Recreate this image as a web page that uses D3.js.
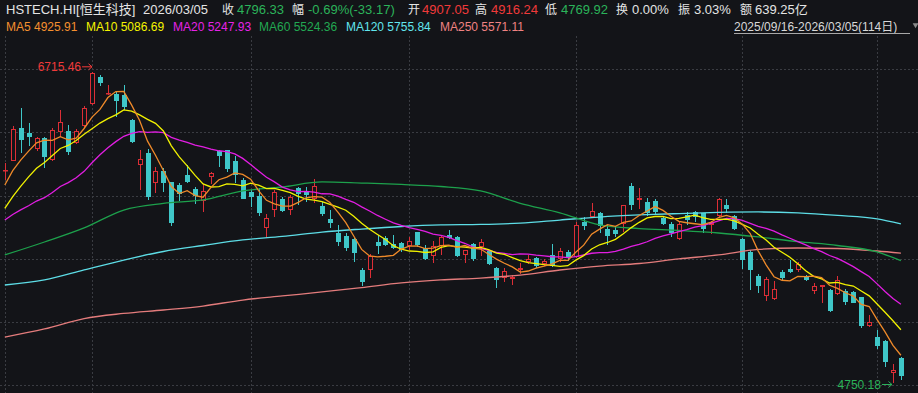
<!DOCTYPE html>
<html>
<head>
<meta charset="utf-8">
<script src="https://cdn.jsdelivr.net/npm/d3@7"></script>
<style>
  html, body { margin: 0; padding: 0; background: #131418; }
  svg { display: block; }
</style>
</head>
<body>
<div id="wrapper"></div>
<script>
// daily candles, 2025/09/16 - 2026/03/05 (114 trading days)
const opens = [6091,6156,6361,6330,6230,6298,6158,6338,6347,6268,6373,6513,6686,6580,6581,6575,6414,6129,6205,6017,
  6091,6020,6003,6066,5979,5901,6055,6220,6224,6154,6034,5956,5930,5729,5843,5912,5844,5982,5960,5912,
  5870,5788,5701,5680,5661,5465,5465,5640,5665,5628,5638,5619,5703,5602,5554,5617,5686,5672,5560,5628,
  5612,5587,5480,5412,5406,5465,5514,5543,5501,5560,5535,5581,5549,5770,5802,5827,5726,5718,5755,5996,
  5908,5896,5903,5794,5759,5658,5811,5832,5824,5750,5808,5876,5808,5659,5578,5427,5300,5280,5454,5469,
  5465,5425,5334,5356,5338,5313,5334,5324,5292,5113,5043,5018,4812,4907.05];
const highs = [6140,6376,6488,6393,6306,6306,6363,6477,6380,6359,6502,6715.46,6698,6635,6593,6635,6420,6224,6230,6115,
  6113,6024,6013,6129,5992,6009,6087,6224,6224,6183,6047,5971,5982,5819,5971,5929,5939,5992,5990,6041,
  5892,5844,5750,5697,5665,5480,5566,5686,5680,5686,5644,5676,5707,5623,5650,5680,5718,5680,5591,5634,
  5659,5591,5486,5480,5433,5507,5560,5549,5535,5628,5602,5591,5767,5798,5887,5834,5750,5746,5876,6017,
  5982,5918,5912,5805,5770,5770,5830,5841,5827,5772,5918,5913,5813,5665,5591,5438,5423,5397,5465,5528,
  5517,5433,5381,5372,5345,5427,5345,5334,5296,5180,5085,5022,4870,4916.24];
const lows = [6034,6154,6203,6249,6218,6112,6154,6306,6192,6262,6369,6509,6629,6572,6435,6477,6266,5971,5908,5954,
  5960,5743,5901,6015,5881,5830,6007,6118,6087,6013,5911,5865,5807,5665,5803,5832,5813,5876,5895,5887,
  5808,5732,5619,5587,5517,5364,5412,5566,5617,5598,5581,5591,5612,5528,5507,5560,5661,5549,5507,5522,
  5555,5497,5349,5387,5370,5438,5501,5480,5492,5486,5517,5522,5539,5718,5800,5697,5623,5676,5707,5843,
  5849,5808,5819,5750,5674,5653,5750,5767,5697,5693,5802,5827,5718,5473,5340,5321,5269,5278,5402,5444,
  5454,5395,5311,5258,5201,5307,5244,5254,5100,5106,4963,4850,4750.18,4769.92];
const closes = [6097,6355,6290,6308,6297,6182,6349,6403,6211,6347,6490,6709,6648,6585,6536,6494,6276,6165,5929,6091,
  6013,5764,5946,6020,5933,5963,6077,6186,6104,6066,5914,5929,5824,5796,5956,5838,5929,5946,5939,5996,
  5817,5760,5644,5606,5574,5391,5554,5617,5623,5602,5591,5648,5623,5535,5617,5672,5665,5554,5591,5533,
  5644,5501,5400,5459,5419,5480,5535,5492,5522,5492,5585,5539,5750,5745,5838,5746,5681,5693,5876,5879,
  5918,5824,5834,5755,5696,5755,5779,5802,5727,5764,5912,5849,5722,5528,5467,5364,5408,5345,5416,5450,
  5501,5402,5364,5370,5206,5402,5264,5258,5108,5138,4985,4880,4829.5,4796.33];
// closes of the 19 sessions before the window (for MA5/10/20)
const preCloses = [5650,5720,5780,5700,5760,5690,5640,5720,5740,5674,5620,5640,5700,5760,5817,5900,5960,6020,6036];

// long averages read every 5 sessions
const longIdx = [0,5,10,15,20,25,30,35,40,45,50,55,60,65,70,75,80,85,90,95,100,105,110,113];
const ma60 = [5560,5642,5731,5844,5886,5908,5965,5990,6022,6015,6006,5993,5965,5887,5827,5750,5727,5715,5699,5674,5644,5620,5579,5524];
const ma120 = [5370,5402,5465,5528,5582,5620,5655,5677,5705,5724,5740,5750,5753,5762,5781,5800,5813,5822,5829,5832,5826,5810,5788,5756];
const ma250 = [5041,5092,5158,5190,5212,5237,5275,5301,5326,5354,5383,5402,5414,5433,5465,5490,5506,5535,5560,5595,5604,5601,5585,5571];

// first session of each month
const monthIdx = [0, 11, 31, 51, 72, 93, 110];
const gridPrices = [6734, 6335, 5935, 5535, 5136, 4737];

const titleTexts = ["HSTECH.HI[恒生科技]", "2026/03/05", "收", "4796.33", "幅", "-0.69%(-33.17)", "开", "4907.05",
  "高", "4916.24", "低", "4769.92", "换", "0.00%", "振", "3.03%", "额", "639.25亿"];
const maLabels = ["MA5 4925.91", "MA10 5086.69", "MA20 5247.93", "MA60 5524.36", "MA120 5755.84", "MA250 5571.11"];
const rangeLabel = "2025/09/16-2026/03/05(114日)";

function buildChart(){
    const width = 918, height = 393;
    const font = "'Liberation Sans', Arial, 'Noto Sans CJK SC', sans-serif";
    const upColor = "#dc2e36", downColor = "#3fc7c8", bg = "#131418";
    const maColors = ["#ef8a2a", "#f2f200", "#e21ee2", "#1da14c", "#5ddde6", "#e47c7c"];
    const maTextColors = ["#f5902f", "#f5f500", "#e623e6", "#22a852", "#62e6ee", "#f08282"];
    const white = "#e4e4e4", green = "#2bb35a", red = "#f03a3a";

    const svg = d3.select("#wrapper").append("svg")
        .attr("width", width).attr("height", height)
        .style("font-family", font);
    svg.append("rect").attr("width", width).attr("height", height).attr("fill", bg);

    const idx = d3.range(closes.length);
    const x_scale = d3.scaleBand().domain(idx).range([0.84, 904.86]);
    const cx = i => x_scale(i) + x_scale.bandwidth() / 2;
    const y_scale = d3.scaleLinear()
        .domain([d3.min(lows), d3.max(highs)])
        .range([383, 72.3]);

    // grid
    const grid = svg.append("g").attr("stroke", "#3a3c42").attr("stroke-dasharray", "2,2").attr("stroke-width", 1);
    grid.selectAll("line.h").data(gridPrices).join("line")
        .attr("x1", 0).attr("x2", width)
        .attr("y1", d => Math.round(y_scale(d)) + 0.5).attr("y2", d => Math.round(y_scale(d)) + 0.5);
    grid.selectAll("line.v").data(monthIdx).join("line")
        .attr("x1", d => Math.round(cx(d)) + 0.5).attr("x2", d => Math.round(cx(d)) + 0.5)
        .attr("y1", 36).attr("y2", height);

    // candles
    const candles = svg.append("g").selectAll("g").data(idx).join("g");
    candles.each(function(i){
        const g = d3.select(this);
        const r = Math.round(cx(i));
        const up = closes[i] >= opens[i];
        const yHi = Math.round(y_scale(highs[i])), yLo = Math.round(y_scale(lows[i]));
        let yTop = Math.round(y_scale(Math.max(opens[i], closes[i])));
        let yBot = Math.round(y_scale(Math.min(opens[i], closes[i])));
        if (yBot - yTop < 1) yBot = yTop + 1;
        const col = up ? upColor : downColor;
        g.append("line").attr("x1", r + 0.5).attr("x2", r + 0.5)
            .attr("y1", yHi).attr("y2", yTop).attr("stroke", col);
        g.append("line").attr("x1", r + 0.5).attr("x2", r + 0.5)
            .attr("y1", yBot).attr("y2", yLo).attr("stroke", col);
        if (up) {
            g.append("rect").attr("x", r - 1.5).attr("y", yTop + 0.5)
                .attr("width", 4).attr("height", Math.max(yBot - yTop - 1, 0.5))
                .attr("fill", bg).attr("stroke", col).attr("stroke-width", 1);
        } else {
            g.append("rect").attr("x", r - 2).attr("y", yTop)
                .attr("width", 5).attr("height", yBot - yTop)
                .attr("fill", col);
        }
    });

    // moving averages
    const allCloses = preCloses.concat(closes);
    const movingAvg = n => idx.map(i => d3.mean(allCloses.slice(i + preCloses.length - n + 1, i + preCloses.length + 1)));
    const shortLine = d3.line().x((d, i) => cx(i)).y(d => y_scale(d));
    const longLine = d3.line().x((d, k) => cx(longIdx[k])).y(d => y_scale(d)).curve(d3.curveMonotoneX);

    const longSeries = [ma250, ma120, ma60];
    const longColors = [maColors[5], maColors[4], maColors[3]];
    longSeries.forEach((s, k) => {
        svg.append("path").attr("d", longLine(s)).attr("fill", "none")
            .attr("stroke", longColors[k]).attr("stroke-width", 1.3);
    });
    [20, 10, 5].forEach((n, k) => {
        svg.append("path").attr("d", shortLine(movingAvg(n))).attr("fill", "none")
            .attr("stroke", maColors[2 - k]).attr("stroke-width", 1.3);
    });

    // extreme labels
    const fmt = d3.format(".2f");
    const arrow = (tipX, y, color) => {
        const p = d3.path();
        p.moveTo(tipX - 10, y); p.lineTo(tipX, y);
        p.moveTo(tipX - 3.5, y - 3); p.lineTo(tipX, y); p.lineTo(tipX - 3.5, y + 3);
        svg.append("path").attr("d", p.toString()).attr("fill", "none").attr("stroke", color).attr("stroke-width", 1);
    };
    const hiI = d3.maxIndex(highs), loI = d3.minIndex(lows);
    const hiY = y_scale(highs[hiI]) - 5.5, loY = y_scale(lows[loI]) + 1.5;
    arrow(cx(hiI), hiY, red);
    svg.append("text").attr("x", cx(hiI) - 11).attr("y", hiY + 4.3).attr("text-anchor", "end")
        .attr("fill", red).style("font-size", "12px").text(fmt(highs[hiI]));
    arrow(cx(loI) - 1, loY, green);
    svg.append("text").attr("x", cx(loI) - 12).attr("y", loY + 4.3).attr("text-anchor", "end")
        .attr("fill", green).style("font-size", "12px").text(fmt(lows[loI]));

    // header row 1
    const titleX = [6, 143, 222, 237, 292, 308, 408, 422, 475, 491, 545, 561, 616, 632, 678, 694, 740, 755];
    const titleCol = [white, white, white, green, white, green, white, red, white, red, white, green, white, white, white, white, white, white];
    svg.append("g").selectAll("text").data(titleTexts).join("text")
        .attr("x", (d, i) => titleX[i]).attr("y", 13.5)
        .attr("fill", (d, i) => titleCol[i])
        .style("font-size", d => d.length === 1 ? "12px" : "13px")
        .text(d => d);

    // header row 2
    const maX = [6, 86, 173, 259, 346, 440];
    svg.append("g").selectAll("text").data(maLabels).join("text")
        .attr("x", (d, i) => maX[i]).attr("y", 30.5)
        .attr("fill", (d, i) => maTextColors[i])
        .style("font-size", "12px")
        .text(d => d);
    svg.append("text").attr("x", 734).attr("y", 30.5).attr("fill", "#d8d8d8")
        .style("font-size", "12px").text(rangeLabel);
    svg.append("line").attr("x1", 734).attr("x2", 910).attr("y1", 33.5).attr("y2", 33.5)
        .attr("stroke", "#a8a8a8").attr("stroke-width", 1);
    svg.append("path").attr("d", d3.symbol(d3.symbolTriangle, 14)())
        .attr("transform", "translate(915.5,25) rotate(180)").attr("fill", "#8a8a8a");
}
buildChart();
</script>
</body>
</html>
